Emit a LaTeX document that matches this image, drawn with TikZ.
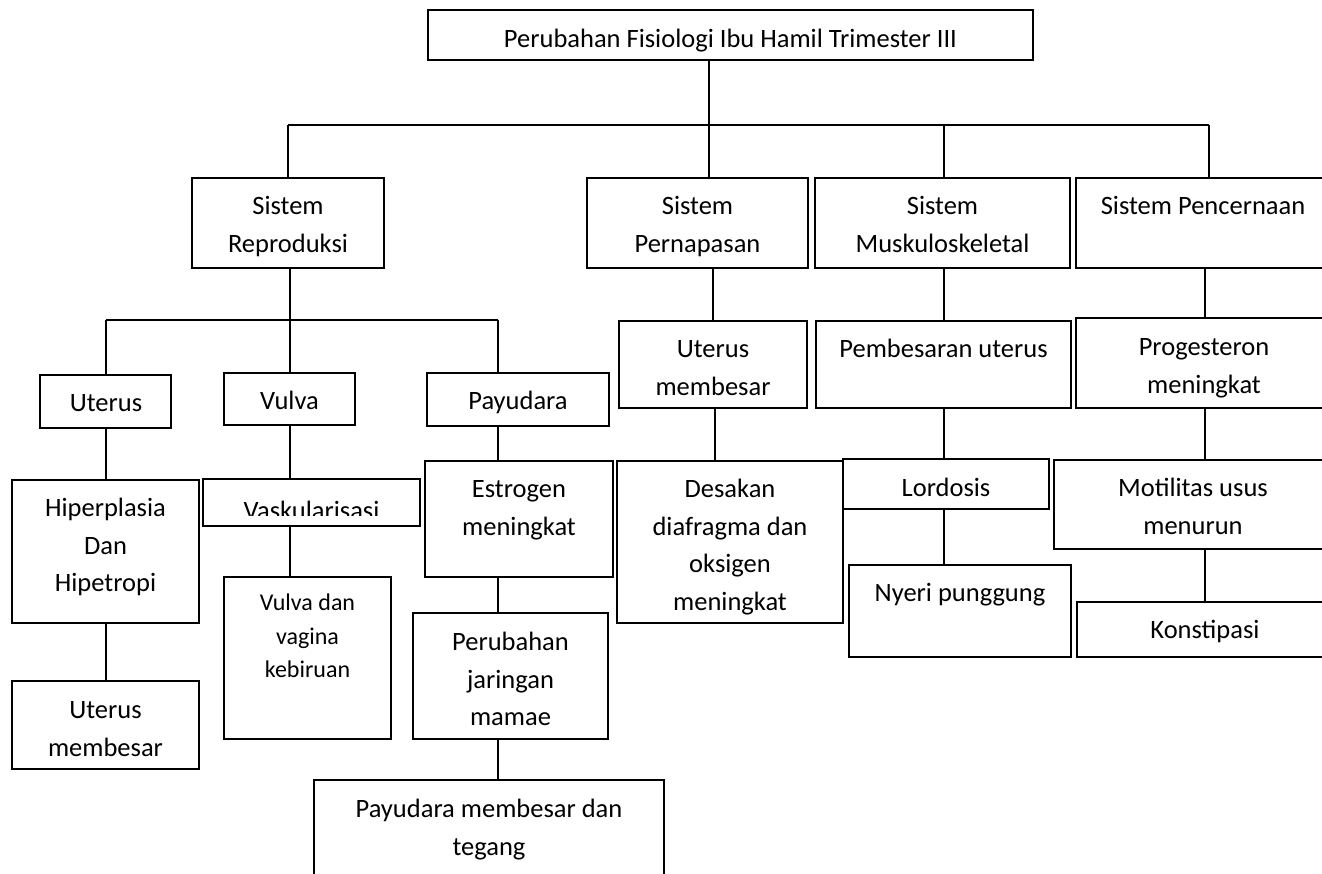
\documentclass[tikz,border=0pt]{standalone}
\usepackage{fontspec}
\setmainfont{Carlito}
\begin{document}
\begin{tikzpicture}[x=1pt,y=-1pt,
  box/.style={draw, line width=1.7pt, rectangle, inner sep=0pt, outer sep=0pt},
  lbl/.style={anchor=north, inner sep=0pt, align=center, font=\fontsize{26.5}{37.5}\selectfont},
  slbl/.style={anchor=north, inner sep=0pt, align=center, font=\fontsize{24}{33.5}\selectfont},
  con/.style={line width=1.7pt}]
\fill[white] (0,0) rectangle (1322,873);
\useasboundingbox (0,0) rectangle (1322,873);
% boxes
\node[box, minimum width=605, minimum height=50] (top) at (730.5,35) {};
\node[box, minimum width=192, minimum height=90] (rep) at (288,223) {};
\node[box, minimum width=221, minimum height=90] (nap) at (697.5,223) {};
\node[box, minimum width=255, minimum height=90] (musk) at (942.5,223) {};
\node[box, minimum width=256, minimum height=90] (cer) at (1204,223) {};
\node[box, minimum width=131, minimum height=53] (ut) at (105.5,401.5) {};
\node[box, minimum width=131, minimum height=52] (vul) at (289.5,399) {};
\node[box, minimum width=182, minimum height=53] (pay) at (518,399.5) {};
\node[box, minimum width=187, minimum height=143] (hip) at (105.5,551.5) {};
\node[box, minimum width=187, minimum height=88] (utm) at (105.5,725) {};
\node[box, minimum width=217, minimum height=47] (vas) at (311.5,502.5) {};
\node[box, minimum width=167, minimum height=162] (vvk) at (307.5,658) {};
\node[box, minimum width=188, minimum height=116] (est) at (519,519) {};
\node[box, minimum width=195, minimum height=126] (jar) at (510.5,676) {};
\node[box, minimum width=350, minimum height=120] (pmb) at (489,840) {};
\node[box, minimum width=188, minimum height=87] (utmb) at (713,364.5) {};
\node[box, minimum width=226, minimum height=162] (des) at (730,542) {};
\node[box, minimum width=255, minimum height=87] (pem) at (943.5,364.5) {};
\node[box, minimum width=206, minimum height=50] (lor) at (946,484) {};
\node[box, minimum width=222, minimum height=92] (nye) at (960,611) {};
\node[box, minimum width=256, minimum height=90] (pro) at (1204,363) {};
\node[box, minimum width=278, minimum height=89] (mot) at (1193,504.5) {};
\node[box, minimum width=256, minimum height=55] (kon) at (1205,629.5) {};
% texts
\node[lbl] (ttop) at (730.5,27.5) {\rule{0pt}{20pt}Perubahan Fisiologi Ibu Hamil Trimester III};
\node[lbl] (trep) at (288,194.5) {\rule{0pt}{20pt}Sistem\\Reproduksi};
\node[lbl] (tnap) at (697.5,194.5) {\rule{0pt}{20pt}Sistem\\Pernapasan};
\node[lbl] (tmusk) at (942.5,194.5) {\rule{0pt}{20pt}Sistem\\Muskuloskeletal};
\node[lbl] (tcer) at (1203,194.5) {\rule{0pt}{20pt}Sistem Pencernaan};
\node[lbl] (tut) at (106,391.5) {\rule{0pt}{20pt}Uterus};
\node[lbl] (tvul) at (289.5,389.5) {\rule{0pt}{20pt}Vulva};
\node[lbl] (tpay) at (518,389.5) {\rule{0pt}{20pt}Payudara};
\node[lbl] (thip) at (105.5,496.5) {\rule{0pt}{20pt}Hiperplasia\\Dan\\Hipetropi};
\node[lbl] (tutm) at (105.5,698.5) {\rule{0pt}{20pt}Uterus\\membesar};
\begin{scope}
\clip (203,479) rectangle (420,515);
\node[lbl, anchor=base] (tvas) at (311.5,519) {Vaskularisasi};
\end{scope}
\node[slbl] (tvvk) at (307.5,592.7) {\rule{0pt}{18pt}Vulva dan\\vagina\\kebiruan};
\node[lbl] (test) at (519,477.5) {\rule{0pt}{20pt}Estrogen\\meningkat};
\node[lbl] (tjar) at (510.5,630.5) {\rule{0pt}{20pt}Perubahan\\jaringan\\mamae};
\node[lbl] (tpmb) at (489,797.5) {\rule{0pt}{20pt}Payudara membesar dan\\tegang};
\node[lbl] (tutmb) at (713,337.5) {\rule{0pt}{20pt}Uterus\\membesar};
\node[lbl] (tdes) at (730,477.5) {\rule{0pt}{20pt}Desakan\\diafragma dan\\oksigen\\meningkat};
\node[lbl] (tpem) at (943.5,337.5) {\rule{0pt}{20pt}Pembesaran uterus};
\node[lbl] (tlor) at (946,476.5) {\rule{0pt}{20pt}Lordosis};
\node[lbl] (tnye) at (960,581.5) {\rule{0pt}{20pt}Nyeri punggung};
\node[lbl] (tpro) at (1204,335.5) {\rule{0pt}{20pt}Progesteron\\meningkat};
\node[lbl] (tmot) at (1193,476.5) {\rule{0pt}{20pt}Motilitas usus\\menurun};
\node[lbl] (tkon) at (1205,618.5) {\rule{0pt}{20pt}Konstipasi};
% bus coordinates
\coordinate (bL) at (288,125);
\coordinate (bA) at (709,125);
\coordinate (bM) at (944,125);
\coordinate (bR) at (1209,125);
\coordinate (cL) at (106,320);
\coordinate (cM) at (290,320);
\coordinate (cR) at (498,320);
\coordinate (n1) at (713,0);
\coordinate (n2) at (715,0);
\coordinate (r1) at (1205,0);
% connectors
\draw[con] (bA |- top.south) -- (bA);
\draw[con] (bL) -- (bR);
\draw[con] (bL) -- (rep.north);
\draw[con] (bA) -- (bA |- nap.north);
\draw[con] (bM) -- (bM |- musk.north);
\draw[con] (bR) -- (bR |- cer.north);
\draw[con] (cM |- rep.south) -- (cM);
\draw[con] (cL) -- (cR);
\draw[con] (cL) -- (cL |- ut.north);
\draw[con] (cM) -- (cM |- vul.north);
\draw[con] (cR) -- (cR |- pay.north);
\draw[con] (cL |- ut.south) -- (cL |- hip.north);
\draw[con] (cL |- hip.south) -- (cL |- utm.north);
\draw[con] (cM |- vul.south) -- (cM |- vas.north);
\draw[con] (cM |- vas.south) -- (cM |- vvk.north);
\draw[con] (cR |- pay.south) -- (cR |- est.north);
\draw[con] (cR |- est.south) -- (cR |- jar.north);
\draw[con] (cR |- jar.south) -- (cR |- pmb.north);
\draw[con] (n1 |- nap.south) -- (n1 |- utmb.north);
\draw[con] (n2 |- utmb.south) -- (n2 |- des.north);
\draw[con] (bM |- musk.south) -- (bM |- pem.north);
\draw[con] (bM |- pem.south) -- (bM |- lor.north);
\draw[con] (bM |- lor.south) -- (bM |- nye.north);
\draw[con] (r1 |- cer.south) -- (r1 |- pro.north);
\draw[con] (r1 |- pro.south) -- (r1 |- mot.north);
\draw[con] (r1 |- mot.south) -- (r1 |- kon.north);
\end{tikzpicture}
\end{document}
